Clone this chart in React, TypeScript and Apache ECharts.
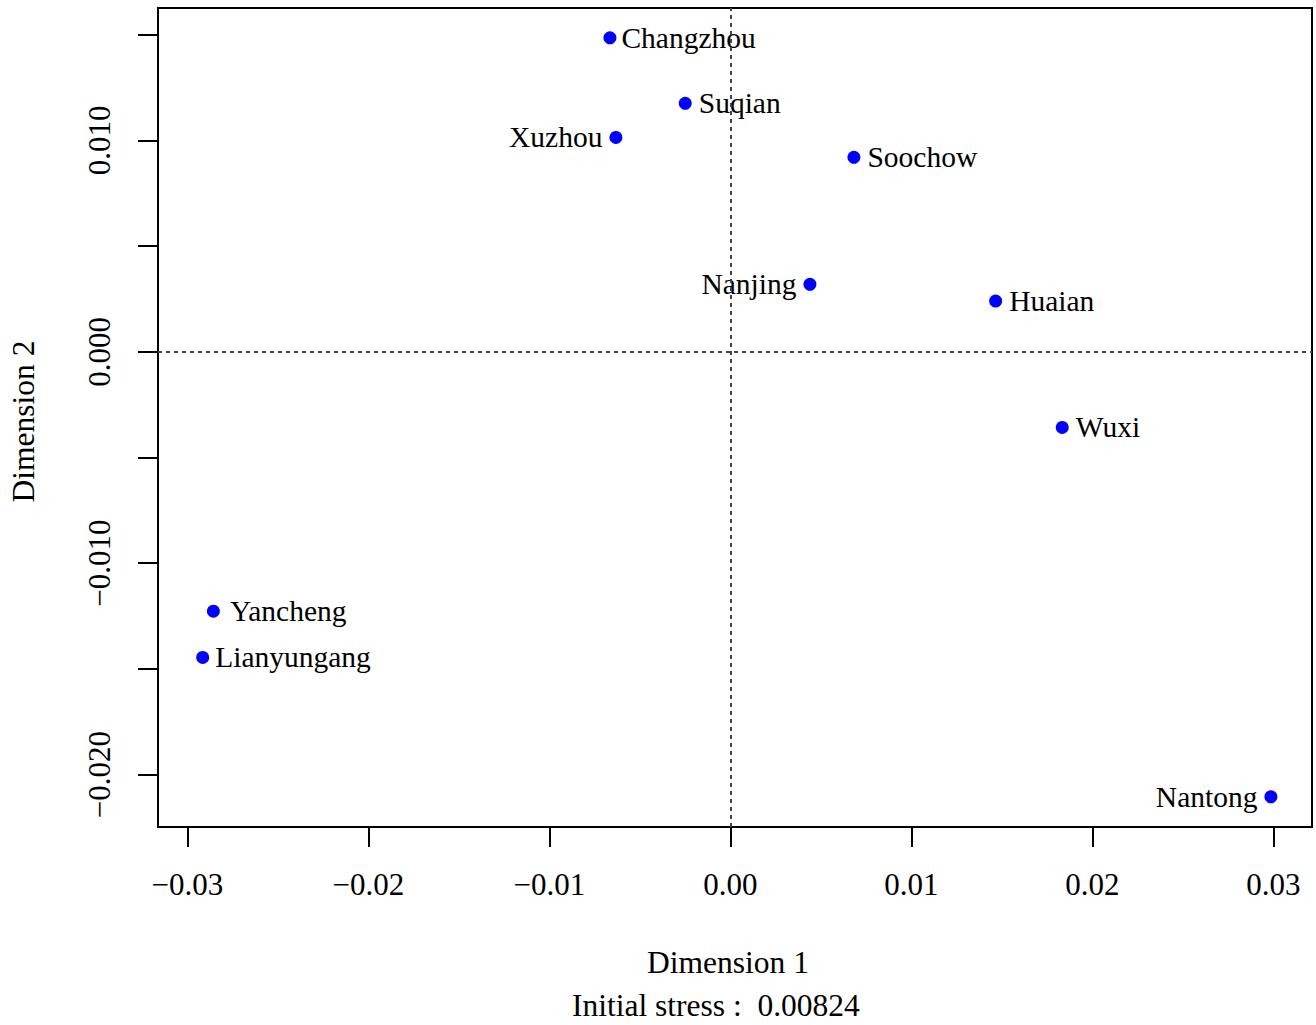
import React, { useEffect, useRef } from 'react';
import * as echarts from 'echarts';

const cities = ['Changzhou', 'Suqian', 'Xuzhou', 'Soochow', 'Nanjing', 'Huaian', 'Wuxi', 'Yancheng', 'Lianyungang', 'Nantong'];
const dim1 = [-0.00665, -0.00249, -0.00632, 0.00683, 0.0044, 0.01466, 0.01834, -0.02856, -0.02915, 0.02987];
const dim2 = [0.01485, 0.01175, 0.01014, 0.0092, 0.00319, 0.0024, -0.00358, -0.01227, -0.01446, -0.02105];
const labelSide = ['right', 'right', 'left', 'right', 'left', 'right', 'right', 'right', 'right', 'left'];
const xTicks = [-0.03, -0.02, -0.01, 0, 0.01, 0.02, 0.03];
const yTicks = [-0.02, -0.015, -0.01, -0.005, 0, 0.005, 0.01, 0.015];
const yLabels = [-0.02, -0.01, 0, 0.01];
const xRange = [-0.03162, 0.03214];
const yRange = [-0.02248, 0.01626];
const xName = 'Dimension 1';
const yName = 'Dimension 2';
const stressLabel = 'Initial stress :\u00a0 0.00824';

const FONT = 'Liberation Serif';
const fmt = (v: number, d: number) => v.toFixed(d).replace('-', '\u2212');

export default function App() {
  const ref = useRef<HTMLDivElement>(null);
  useEffect(() => {
    if (!ref.current) return;
    const chart = echarts.init(ref.current, undefined, { renderer: 'svg' });
    const labelDist: Record<string, number> = { Changzhou: 5, Yancheng: 10, Lianyungang: 6 };
    const data = cities.map((c, i) => ({
      name: c,
      value: [dim1[i], dim2[i]],
      label: { position: labelSide[i], distance: labelDist[c] ?? 7 },
    }));
    chart.setOption({
      animation: false,
      backgroundColor: '#ffffff',
      textStyle: { fontFamily: FONT },
      title: {
        text: stressLabel,
        left: 572,
        top: 989,
        padding: 0,
        textStyle: { fontFamily: FONT, fontSize: 31.5, fontWeight: 'normal', color: '#000' },
      },
      grid: {
        left: 158,
        top: 8,
        width: 1154,
        height: 819,
        show: true,
        borderColor: '#000',
        borderWidth: 2,
        containLabel: false,
        outerBoundsMode: 'none',
      },
      xAxis: {
        type: 'value',
        min: xRange[0],
        max: xRange[1],
        name: xName,
        nameLocation: 'middle',
        nameGap: 119,
        nameTextStyle: { fontFamily: FONT, fontSize: 31.5, color: '#000', padding: [0, 14, 0, 0] },
        axisLine: { show: false, onZero: false },
        splitLine: { show: false },
        axisTick: { show: true, length: 20, customValues: xTicks, lineStyle: { color: '#000', width: 2 } },
        axisLabel: {
          customValues: xTicks,
          margin: 42,
          fontFamily: FONT,
          fontSize: 31,
          color: '#000',
          formatter: (v: number) => fmt(v, 2),
        },
      },
      yAxis: {
        type: 'value',
        min: yRange[0],
        max: yRange[1],
        name: yName,
        nameLocation: 'middle',
        nameGap: 119,
        nameTextStyle: { fontFamily: FONT, fontSize: 31.5, color: '#000', padding: [0, 8, 0, 0] },
        axisLine: { show: false, onZero: false },
        splitLine: { show: false },
        axisTick: { show: true, length: 20, customValues: yTicks, lineStyle: { color: '#000', width: 2 } },
        axisLabel: {
          customValues: yLabels,
          rotate: 90,
          margin: 43,
          fontFamily: FONT,
          fontSize: 31,
          color: '#000',
          formatter: (v: number) => fmt(v, 3),
        },
      },
      series: [
        {
          type: 'scatter',
          data,
          symbol: 'circle',
          symbolSize: 13,
          itemStyle: { color: '#0000ff', opacity: 1 },
          label: {
            show: true,
            formatter: '{b}',
            fontFamily: FONT,
            fontSize: 29.5,
            color: '#000',
          },
          markLine: {
            silent: true,
            symbol: ['none', 'none'],
            label: { show: false },
            lineStyle: { color: '#444', type: [4, 4], width: 2, opacity: 1 },
            data: [{ xAxis: 0 }, { yAxis: 0 }],
          },
        },
      ],
    });
    return () => chart.dispose();
  }, []);
  return <div ref={ref} style={{ position: 'absolute', left: 0, top: 0, width: 1316, height: 1025 }} />;
}
